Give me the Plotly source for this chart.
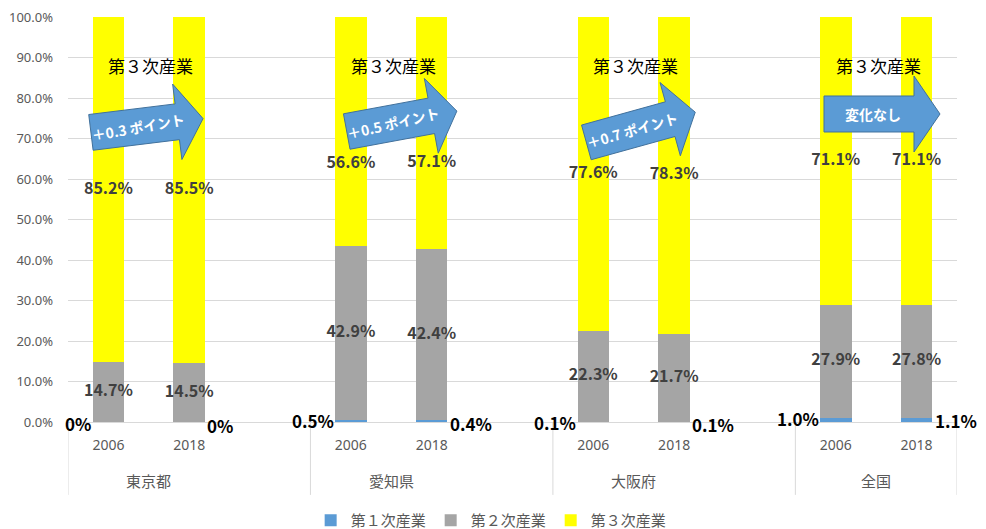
import math
import plotly.graph_objects as go

# ---------------- data ----------------
regions = ["東京都", "愛知県", "大阪府", "全国"]
years = ["2006", "2018"]
primary = [0.0, 0.0, 0.5, 0.4, 0.1, 0.1, 1.0, 1.1]
secondary = [14.7, 14.5, 42.9, 42.4, 22.3, 21.7, 27.9, 27.8]
tertiary = [85.2, 85.5, 56.6, 57.1, 77.6, 78.3, 71.1, 71.1]
series_names = ["第１次産業", "第２次産業", "第３次産業"]
arrow_texts = ["＋0.3 ポイント", "＋0.5 ポイント", "＋0.7 ポイント", "変化なし"]
group_title = "第３次産業"
y_ticks = [0, 10, 20, 30, 40, 50, 60, 70, 80, 90, 100]

# ---------------- styles ----------------
C1, C2, C3 = "#5B9BD5", "#A5A5A5", "#FFFF00"
GRID = "#D9D9D9"
AXT = "#595959"
LAB = "#404040"
FONT = "Noto Sans CJK JP, Noto Sans, sans-serif"
NUMFONT = "Noto Sans, Noto Sans CJK JP, sans-serif"

# category slots: 3 per region (2 years + gap), last region has no gap
xpos = []
for i, r in enumerate(regions):
    for j, y in enumerate(years):
        xpos.append(3 * i + j)
n_slots = 3 * len(regions) - 1
xr = [-0.5, n_slots - 0.5]

fig = go.Figure()
for vals, name, col in zip([primary, secondary, tertiary], series_names, [C1, C2, C3]):
    fig.add_trace(go.Bar(x=xpos, y=vals, name=name, marker=dict(color=col, line=dict(width=0)),
                         width=0.39, hoverinfo="skip"))

# second-industry labels (centre of grey segment)
fig.add_trace(go.Scatter(
    x=xpos, y=[p + s / 2 for p, s in zip(primary, secondary)], mode="text",
    text=[f"{v:.1f}%" for v in secondary], textposition="middle center",
    textfont=dict(family=FONT, size=16, color=LAB, weight="bold"),
    showlegend=False, hoverinfo="skip", cliponaxis=False))

# third-industry labels (centre, Aichi placed lower to clear the arrow)
frac = [0.5, 0.5, 0.36, 0.37, 0.5, 0.5, 0.5, 0.5]
fig.add_trace(go.Scatter(
    x=xpos, y=[p + s + t * f for p, s, t, f in zip(primary, secondary, tertiary, frac)], mode="text",
    text=[f"{v:.1f}%" for v in tertiary], textposition="middle center",
    textfont=dict(family=FONT, size=16, color=LAB, weight="bold"),
    showlegend=False, hoverinfo="skip", cliponaxis=False))

annotations = []
shapes = []

# first-industry labels beside bars
for k, (x, v) in enumerate(zip(xpos, primary)):
    txt = "0%" if v == 0 else f"{v:.1f}%"
    left = (k % 2 == 0)
    annotations.append(dict(
        x=x, y=v, xref="x", yref="y", text=f"<b>{txt}</b>", showarrow=False,
        xanchor="right" if left else "left", yanchor="middle",
        xshift=-15 if left else 16, yshift=-1 if left else -3,
        font=dict(family=FONT, size=17, color="#000000")))

# region labels, titles and dividers
for i, r in enumerate(regions):
    annotations.append(dict(
        x=3 * i + 0.5, y=0, xref="x", yref="paper", text=r, showarrow=False,
        yanchor="middle", yshift=-58, font=dict(family=FONT, size=15, color=AXT)))
    annotations.append(dict(
        x=3 * i + 0.5, y=0, xref="x", yref="paper", text=group_title, showarrow=False,
        yanchor="middle", yshift=357, xshift=2, font=dict(family=FONT, size=17, color="#000000")))

div_x = [-0.5, 2.5, 5.5, 8.5, n_slots - 0.5]
for dx in div_x:
    shapes.append(dict(type="line", xref="x", yref="paper", x0=dx, x1=dx, y0=0, y1=-0.18,
                       line=dict(color=GRID, width=1)))

# arrows (decorations, pixel layout converted to paper)
L_M, T_M, PW, PH = 68, 17, 889, 405


def px2paper(px, py):
    return (px - L_M) / PW, (T_M + PH - py) / PH


arrow_geo = [  # cx, cy, length, angle(deg), text angle
    (147, 125.5, 113, -7, -10),
    (401.8, 121.3, 112, -10.5, -13),
    (640.8, 127.3, 113, -15.5, -16),
    (882, 114, 116, 0, 0),
]
h, H, hl = 18, 38, 26
for (cx, cy, L, ang, tang), txt in zip(arrow_geo, arrow_texts):
    th = math.radians(ang)
    local = [(-L / 2, -h), (L / 2 - hl, -h), (L / 2 - hl, -H), (L / 2, 0),
             (L / 2 - hl, H), (L / 2 - hl, h), (-L / 2, h)]
    pts = []
    for u, v in local:
        x = cx + u * math.cos(th) - v * math.sin(th)
        y = cy + u * math.sin(th) + v * math.cos(th)
        pts.append(px2paper(x, y))
    path = "M " + " L ".join(f"{a:.5f},{b:.5f}" for a, b in pts) + " Z"
    shapes.append(dict(type="path", xref="paper", yref="paper", path=path,
                       fillcolor="#5B9BD5", line=dict(color="#41719C", width=1), layer="above"))
    u0 = -9
    tx, ty = px2paper(cx + u0 * math.cos(th), cy + u0 * math.sin(th))
    annotations.append(dict(
        x=tx, y=ty, xref="paper", yref="paper", text=f"<b>{txt}</b>", showarrow=False,
        textangle=tang, xanchor="center", yanchor="middle",
        font=dict(family=FONT, size=14, color="#FFFFFF")))

fig.update_layout(
    width=986, height=529,
    margin=dict(l=L_M, r=29, t=T_M, b=107, autoexpand=False),
    barmode="stack",
    paper_bgcolor="#FFFFFF", plot_bgcolor="#FFFFFF",
    font=dict(family=FONT, color=AXT),
    showlegend=True,
    legend=dict(orientation="h", traceorder="normal", x=0.476, xanchor="center",
                yref="container", y=0.016, yanchor="middle",
                font=dict(family=FONT, size=15, color=AXT), itemwidth=30),
    xaxis=dict(range=xr, tickmode="array", tickvals=xpos, ticktext=[years[k % 2] for k in range(len(xpos))],
               tickfont=dict(family=NUMFONT, size=14, color=AXT), showgrid=False, zeroline=False,
               showline=True, linecolor=GRID, linewidth=1, ticks="", ticklabelstandoff=10,
               automargin=False, fixedrange=True),
    yaxis=dict(range=[0, 100], tickmode="array", tickvals=y_ticks,
               ticktext=[f"{v:.1f}%" for v in y_ticks],
               tickfont=dict(family=NUMFONT, size=13, color=AXT), showgrid=True, gridcolor=GRID,
               gridwidth=1, zeroline=False, showline=False, ticks="", ticklabelstandoff=14,
               automargin=False, fixedrange=True),
    annotations=annotations,
    shapes=shapes,
)

fig.write_html("out.html", config={"displayModeBar": False},
               post_script="document.body.style.margin='0';document.body.style.overflow='hidden';")
